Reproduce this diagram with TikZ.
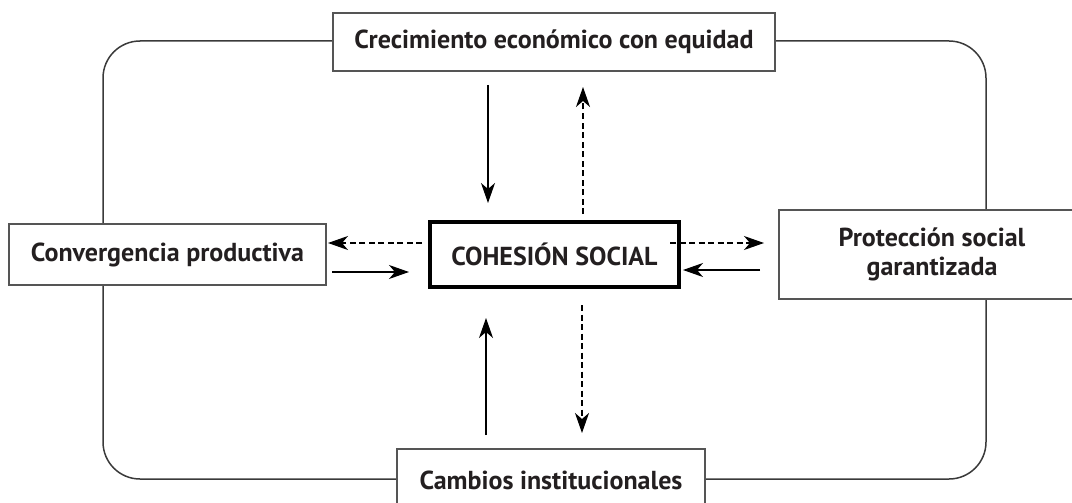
\documentclass[tikz,border=0pt]{standalone}
\usepackage{fontspec}
\setmainfont{PT Sans}
\usetikzlibrary{arrows.meta}
\definecolor{boxgray}{HTML}{555555}
\definecolor{outergray}{HTML}{3A3A3A}
\definecolor{txt}{HTML}{231F20}
\begin{document}
\begin{tikzpicture}[x=1pt,y=-1pt,
  box/.style={draw=boxgray, line width=1.3pt, fill=white, inner sep=0pt, align=center,
    text=txt, font=\bfseries\fontsize{26}{29}\selectfont},
  corebox/.style={box, draw=black, line width=3.6pt},
  outer/.style={draw=outergray, line width=1.5pt, rounded corners=37pt},
  solidarrow/.style={draw=black, line width=1.1pt, -{Stealth[length=20pt,width=14pt,inset=6pt]}},
  dasharrow/.style={solidarrow, dash pattern=on 6pt off 3.5pt}]
\useasboundingbox (0,0) rectangle (1072,503);
\begin{scope}
\clip (0,0) rectangle (1072,503);
\draw[outer] (103,41) rectangle (986,479);

\node[box, minimum width=442pt, minimum height=58pt] (top) at (554,42) {Crecimiento económico con equidad};
\node[box, minimum width=317pt, minimum height=61pt] (left) at (167.5,254.5) {Convergencia productiva};
\node[box, minimum width=306pt, minimum height=89pt] (right) at (932,254.5) {Protección social\\garantizada};
\node[box, minimum width=308pt, minimum height=62pt] (bottom) at (551,480) {Cambios institucionales};
\node[corebox, minimum width=249pt, minimum height=65pt] (core) at (554.5,254.5) {COHESIÓN SOCIAL};

% arrow end points
\coordinate (t1s) at (488,85);   \coordinate (t1e) at (488,203);
\coordinate (t2s) at (583,214);  \coordinate (t2e) at (583,87);
\coordinate (l1s) at (422,243);  \coordinate (l1e) at (328,243);
\coordinate (l2s) at (332,272);  \coordinate (l2e) at (409,272);
\coordinate (r1s) at (670,243);  \coordinate (r1e) at (764,243);
\coordinate (r2s) at (760,270);  \coordinate (r2e) at (683,270);
\coordinate (b1s) at (486,435);  \coordinate (b1e) at (486,318);
\coordinate (b2s) at (582,305);  \coordinate (b2e) at (582,433);

\draw[solidarrow] (t1s) -- (t1e);
\draw[dasharrow] (t2s) -- (t2e);
\draw[dasharrow] (l1s) -- (l1e);
\draw[solidarrow] (l2s) -- (l2e);
\draw[dasharrow] (r1s) -- (r1e);
\draw[solidarrow] (r2s) -- (r2e);
\draw[solidarrow] (b1s) -- (b1e);
\draw[dasharrow] (b2s) -- (b2e);
\end{scope}
\end{tikzpicture}
\end{document}
